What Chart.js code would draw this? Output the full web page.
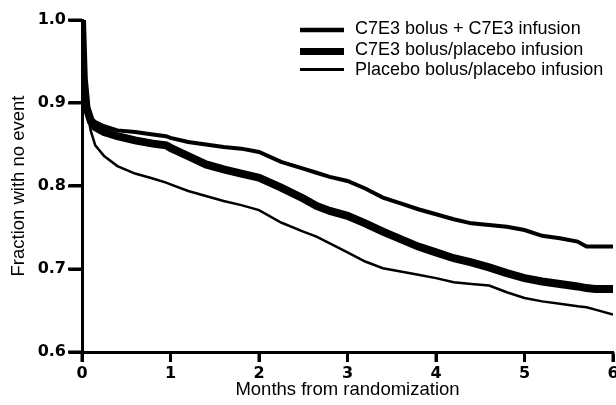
<!DOCTYPE html>
<html>
<head>
<meta charset="utf-8">
<script src="https://cdn.jsdelivr.net/npm/chart.js@4"></script>
<style>
  html, body { margin: 0; padding: 0; background: #fff; }
  #wrap { width: 616px; height: 405px; }
</style>
</head>
<body>
<div id="wrap"><canvas id="kmChart" width="616" height="405"></canvas></div>
<script>
/* ---- data ---- */
const months = [0, 0.02, 0.05, 0.1, 0.15, 0.25, 0.4, 0.6, 0.8, 0.95, 1.0, 1.2, 1.4, 1.6, 1.8,
  2.0, 2.25, 2.5, 2.65, 2.8, 3.0, 3.2, 3.4, 3.6, 3.8, 4.0, 4.2, 4.4, 4.6, 4.8,
  5.0, 5.2, 5.4, 5.6, 5.7, 5.8, 6.0];

const bolusInfusion = [1.0, 0.93, 0.895, 0.882, 0.877, 0.872, 0.867, 0.865, 0.862, 0.860, 0.858,
  0.853, 0.850, 0.847, 0.845, 0.841, 0.829, 0.821, 0.816, 0.811, 0.806, 0.797, 0.786, 0.779,
  0.772, 0.766, 0.760, 0.755, 0.753, 0.751, 0.747, 0.740, 0.737, 0.733, 0.727, 0.727, 0.727];

const bolusPlacebo = [1.0, 0.93, 0.895, 0.878, 0.871, 0.865, 0.860, 0.855, 0.851, 0.849, 0.846,
  0.836, 0.826, 0.820, 0.815, 0.810, 0.798, 0.785, 0.776, 0.770, 0.764, 0.755, 0.745, 0.736,
  0.727, 0.720, 0.713, 0.708, 0.702, 0.695, 0.689, 0.685, 0.682, 0.679, 0.677, 0.676, 0.676];

const placeboPlacebo = [1.0, 0.93, 0.895, 0.866, 0.849, 0.836, 0.824, 0.815, 0.809, 0.804, 0.802,
  0.794, 0.788, 0.782, 0.777, 0.771, 0.756, 0.745, 0.739, 0.731, 0.720, 0.709, 0.701, 0.697,
  0.693, 0.689, 0.684, 0.682, 0.680, 0.672, 0.665, 0.661, 0.658, 0.655, 0.654, 0.651, 0.645];

const seriesLabels = [
  "C7E3 bolus + C7E3 infusion",
  "C7E3 bolus/placebo infusion",
  "Placebo bolus/placebo infusion"
];
const xTicks = [0, 1, 2, 3, 4, 5, 6];
const yTicks = [0.6, 0.7, 0.8, 0.9, 1.0];

/* ---- helpers ---- */
function toPoints(values) {
  return months.map((m, i) => ({ x: m, y: values[i] }));
}

// legend drawn as plain lines + text in the upper right
const lineLegend = {
  id: "lineLegend",
  afterDraw(chart) {
    const ctx = chart.ctx;
    const lineRows = [30, 51.5, 69.5];
    const textRows = [29.5, 50, 70];
    ctx.save();
    ctx.font = '18px "Liberation Sans", Arial, sans-serif';
    ctx.fillStyle = "#000";
    ctx.textBaseline = "middle";
    chart.data.datasets.forEach((ds, i) => {
      ctx.strokeStyle = "#000";
      ctx.lineWidth = ds.legendWidth;
      ctx.beginPath();
      ctx.moveTo(300, lineRows[i]);
      ctx.lineTo(344, lineRows[i]);
      ctx.stroke();
      ctx.fillText(ds.label, 355, textRows[i]);
    });
    ctx.restore();
  }
};

// short outside tick marks on both axes (filled rects)
const tickMarks = {
  id: "tickMarks",
  afterDraw(chart) {
    const ctx = chart.ctx;
    const { x, y } = chart.scales;
    ctx.save();
    ctx.fillStyle = "#000";
    x.ticks.forEach(t => {
      const px = x.getPixelForValue(t.value);
      ctx.fillRect(px - 1.5, x.top, 3, 10);
    });
    y.ticks.forEach(t => {
      const py = y.getPixelForValue(t.value);
      ctx.fillRect(y.right - 14, py - 1.5, 14, 3);
    });
    ctx.restore();
  }
};

const tickFont = { family: "DejaVu Sans", size: 16, weight: "bold" };
const titleFont = { family: "Liberation Sans", size: 18.5 };

new Chart(document.getElementById("kmChart"), {
  type: "line",
  data: {
    datasets: [
      { label: seriesLabels[0], data: toPoints(bolusInfusion), borderColor: "#000", borderWidth: 4, legendWidth: 4.5 },
      { label: seriesLabels[1], data: toPoints(bolusPlacebo), borderColor: "#000", borderWidth: 8, legendWidth: 7 },
      { label: seriesLabels[2], data: toPoints(placeboPlacebo), borderColor: "#000", borderWidth: 2.5, legendWidth: 3 }
    ]
  },
  options: {
    responsive: false,
    animation: false,
    layout: { padding: { top: 20, right: 3, left: 0, bottom: 0 } },
    elements: {
      point: { radius: 0 },
      line: { tension: 0, fill: false, borderCapStyle: "butt", borderJoinStyle: "miter" }
    },
    plugins: { legend: { display: false }, tooltip: { enabled: false } },
    scales: {
      x: {
        type: "linear",
        min: 0,
        max: 6,
        afterBuildTicks: s => { s.ticks = xTicks.map(v => ({ value: v })); },
        afterFit: s => { s.height = 53; s.paddingRight = 0; s.paddingLeft = 0; },
        ticks: { font: tickFont, color: "#000", padding: 2, callback: v => String(v) },
        grid: { drawOnChartArea: false, drawTicks: true, tickLength: 10, tickWidth: 3, tickColor: "#000" },
        border: { display: true, color: "#000", width: 3 },
        title: { display: true, text: "Months from randomization", font: titleFont, color: "#000", padding: { top: 0, bottom: 4 } }
      },
      y: {
        min: 0.6,
        max: 1.0,
        afterBuildTicks: s => { s.ticks = yTicks.map(v => ({ value: v })); },
        afterFit: s => { s.width = 82; },
        ticks: { font: tickFont, color: "#000", padding: 3, callback: v => v.toFixed(1) },
        grid: { drawOnChartArea: false, drawTicks: true, tickLength: 13, tickWidth: 3, tickColor: "#000" },
        border: { display: true, color: "#000", width: 3 },
        title: { display: true, text: "Fraction with no event", font: titleFont, color: "#000", padding: { top: 8, bottom: 0 } }
      }
    }
  },
  plugins: [lineLegend, tickMarks]
});
</script>
</body>
</html>
